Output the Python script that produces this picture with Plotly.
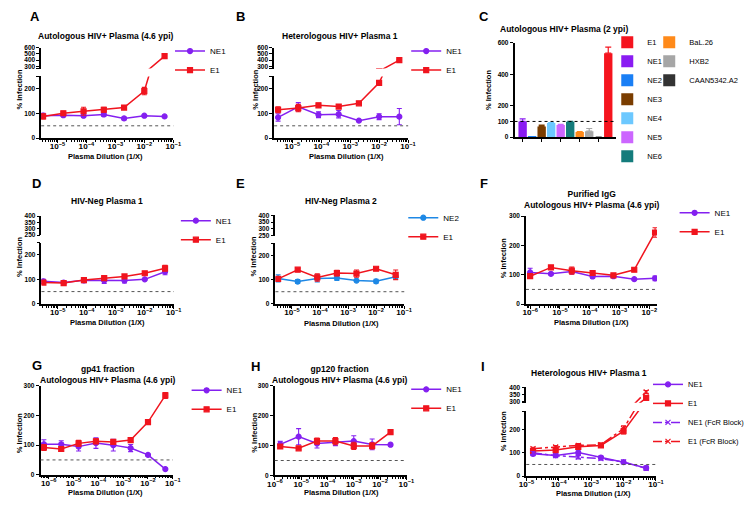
import plotly.graph_objects as go

FONT = "Liberation Sans"
W, H = 750, 508

PURPLE = "#8420F0"
RED = "#F0141E"
BLUE = "#1E88E5"
GREY_DOT = "#555555"

# ---------------- data ----------------
dil_7 = [3.2e-6, 1.6e-5, 8e-5, 4e-4, 2e-3, 1e-2, 5e-2]

# A: Autologous HIV+ Plasma (4.6 ypi)
a_ne1 = [91, 93, 91, 96, 80, 91, 88]
a_ne1_err = [10, 6, 6, 8, 6, 4, 4]
a_e1 = [88, 101, 109, 115, 124, 191, 465]
a_e1_err = [10, 8, 16, 10, 4, 15, 35]

# B: Heterologous HIV+ Plasma 1
b_ne1 = [84, 127, 95, 97, 71, 87, 87]
b_ne1_err = [15, 17, 12, 15, 4, 12, 33]
b_e1 = [115, 122, 133, 128, 141, 224, 400]
b_e1_err = [12, 15, 8, 8, 3, 10, 8]

# C: Autologous HIV+ Plasma (2 ypi)
c_labels = ["NE1", "NE2", "NE3", "NE4", "NE5", "NE6", "BaL.26", "HXB2", "CAAN5342.A2", "E1"]
c_values = [100, 3, 68, 90, 77, 98, 33, 38, 1, 535]
c_err = [16, 0, 9, 3, 4, 2, 2, 17, 0, 38]
c_colors = ["#8A1CF2", "#1A7FF5", "#7A3D00", "#6CC8FF", "#CC66FF", "#147C7C",
            "#FF8A1A", "#A6A6A6", "#333333", "#F5141E"]
c_legend_col1 = ["E1", "NE1", "NE2", "NE3", "NE4", "NE5", "NE6"]
c_legend_col2 = ["BaL.26", "HXB2", "CAAN5342.A2"]
c_yticks = [0, 100, 200, 400, 600]

# D: HIV-Neg Plasma 1
d_ne1 = [92, 87, 96, 95, 95, 100, 131]
d_ne1_err = [8, 4, 10, 12, 10, 3, 12]
d_e1 = [87, 85, 97, 105, 112, 125, 145]
d_e1_err = [5, 4, 5, 8, 4, 6, 12]

# E: HIV-Neg Plasma 2
e_ne2 = [105, 92, 105, 107, 96, 93, 112]
e_ne2_err = [15, 8, 15, 10, 4, 8, 10]
e_e1 = [103, 141, 109, 127, 125, 145, 120]
e_e1_err = [5, 6, 15, 12, 15, 4, 20]

# F: Purified IgG
f_x = [1e-6, 5e-6, 2.5e-5, 1.25e-4, 6.25e-4, 3.125e-3, 1.5625e-2]
f_ne1 = [108, 103, 111, 94, 95, 85, 88]
f_ne1_err = [14, 4, 8, 6, 4, 3, 8]
f_e1 = [95, 125, 114, 106, 98, 117, 244]
f_e1_err = [7, 4, 12, 5, 4, 6, 16]

# G: gp41 fraction
g_x = [6.4e-7, 3.2e-6, 1.6e-5, 8e-5, 4e-4, 2e-3, 1e-2, 5e-2]
g_ne1 = [103, 103, 95, 107, 100, 90, 67, 19]
g_ne1_err = [15, 12, 15, 18, 20, 12, 3, 3]
g_e1 = [92, 87, 106, 113, 111, 117, 178, 268]
g_e1_err = [10, 8, 10, 8, 6, 8, 5, 10]

# H: gp120 fraction
h_x = [1.6e-6, 8e-6, 4e-5, 2e-4, 1e-3, 5e-3, 2.5e-2]
h_ne1 = [104, 130, 107, 112, 115, 104, 103]
h_ne1_err = [10, 27, 15, 12, 18, 18, 5]
h_e1 = [97, 91, 115, 115, 99, 99, 145]
h_e1_err = [5, 3, 10, 12, 12, 10, 6]

# I: Heterologous HIV+ Plasma 1 (+/- FcR block)
i_x = [1.6e-5, 8e-5, 4e-4, 2e-3, 1e-2, 5e-2]
i_ne1 = [96, 89, 101, 80, 60, 35]
i_ne1_err = [8, 5, 12, 6, 4, 8]
i_e1 = [108, 112, 126, 132, 193, 325]
i_e1_err = [6, 8, 10, 6, 12, 12]
i_ne1_fcr = [100, 88, 82, 75, 61, 33]
i_ne1_fcr_err = [6, 4, 8, 6, 4, 6]
i_e1_fcr = [118, 125, 132, 135, 204, 367]
i_e1_fcr_err = [6, 6, 8, 4, 12, 10]

# ---------------- figure ----------------
fig = go.Figure()
layout = dict(width=W, height=H, margin=dict(l=0, r=0, t=0, b=0),
              plot_bgcolor="white", paper_bgcolor="white", showlegend=True,
              barmode="overlay")
annotations = []
shapes = []

axis_count = {"x": 0, "y": 0}


def new_axis(letter):
    axis_count[letter] += 1
    i = axis_count[letter]
    suf = "" if i == 1 else str(i)
    return f"{letter}axis{suf}", f"{letter}{suf}"


def axis_style(**kw):
    d = dict(showline=True, linecolor="black", linewidth=1.5, ticks="outside", ticklen=3,
             tickwidth=1.2, tickcolor="black", showgrid=False, zeroline=False,
             tickfont=dict(family=FONT, size=6.5, color="black", weight="bold"))
    d.update(kw)
    return d


def legend_style(px, py, size=8):
    return dict(x=px / W, y=1 - py / H, xanchor="left", yanchor="top",
                font=dict(family=FONT, size=size, color="black"),
                bgcolor="rgba(0,0,0,0)", borderwidth=0, itemwidth=30,
                tracegroupgap=0, traceorder="normal")


def add_series(xref, yref, x, y, err, name, color, symbol, dash, legend, showlegend):
    fig.add_trace(go.Scatter(
        x=x, y=y, mode="lines+markers", name=name, xaxis=xref, yaxis=yref,
        line=dict(color=color, width=1.5, dash=dash),
        marker=dict(color=color, symbol=symbol, size=5, line=dict(color=color, width=1.2)),
        error_y=dict(type="data", array=err, visible=True, color=color, thickness=1.1, width=2.5),
        legend=legend, showlegend=showlegend))


def line_panel(xpx, xrng, lower, upper, series, legend_name, legend_pos, legend_size=8):
    xkey, xref = new_axis("x")
    ylkey, ylref = new_axis("y")
    layout[xkey] = axis_style(
        type="log", domain=[xpx[0] / W, xpx[1] / W], range=list(xrng),
        dtick=1, exponentformat="power", ticklabelstandoff=-3, anchor=ylref,
        minor=dict(ticks="outside", ticklen=2, tickwidth=0.8, tickcolor="black",
                   dtick="D1", showgrid=False))
    bot, top, rng, tv, tt = lower
    layout[ylkey] = axis_style(domain=[1 - bot / H, 1 - top / H], range=list(rng),
                               tickvals=tv, ticktext=tt, anchor=xref)
    yrefs = [ylref]
    if upper is not None:
        yhkey, yhref = new_axis("y")
        bot, top, rng, tv, tt = upper
        layout[yhkey] = axis_style(domain=[1 - bot / H, 1 - top / H], range=list(rng),
                                   tickvals=tv, ticktext=tt, anchor=xref)
        yrefs.append(yhref)
    for k, yr in enumerate(yrefs):
        for s in series:
            add_series(xref, yr, *s, legend=legend_name, showlegend=(k == 0))
    layout[legend_name] = legend_style(*legend_pos, size=legend_size)
    shapes.append(dict(type="line", xref=f"{xref} domain", x0=0, x1=1, yref=ylref,
                       y0=50, y1=50, line=dict(color=GREY_DOT, width=1, dash="dot")))


def text(px, py, s, size, bold=True, angle=0):
    annotations.append(dict(x=px / W, y=1 - py / H, xref="paper", yref="paper", text=s,
                            showarrow=False, textangle=angle,
                            font=dict(family=FONT, size=size, color="black",
                                      weight="bold" if bold else "normal"),
                            xanchor="center", yanchor="middle"))


LOW_250 = [0, 100, 200, 250], ["0", "100", "200", ""]
UP_600 = [265, 300, 400, 500, 600], ["", "300", "400", "500", "600"]
UP_400 = [250, 300, 350, 400], ["250", "300", "350", "400"]
TICK_300 = [0, 100, 200, 300], ["0", "100", "200", "300"]

# A
line_panel((34, 169.5), (-5.56, -0.995),
           (136, 73.5, (0, 250), *LOW_250),
           (65.5, 44.3, (265, 600), *UP_600),
           [(dil_7, a_ne1, a_ne1_err, "NE1", PURPLE, "circle", "solid"),
            (dil_7, a_e1, a_e1_err, "E1", RED, "square", "solid")],
           "legend", (166, 33))
# B
line_panel((272.7, 410), (-5.63, -0.995),
           (136, 73.5, (0, 250), *LOW_250),
           (65.5, 44.3, (265, 600), *UP_600),
           [(dil_7, b_ne1, b_ne1_err, "NE1", PURPLE, "circle", "solid"),
            (dil_7, b_e1, b_e1_err, "E1", RED, "square", "solid")],
           "legend2", (408, 33))

# C (bar chart)
cxkey, cxref = new_axis("x")
cykey, cyref = new_axis("y")
layout[cxkey] = axis_style(type="category", domain=[519 / W, 623 / W], range=[-0.85, 9.82],
                           showticklabels=False, anchor=cyref, categoryorder="array",
                           categoryarray=c_labels)
layout[cykey] = axis_style(domain=[1 - 135 / H, 1 - 39.5 / H], range=[0, 600],
                           tickvals=c_yticks, anchor=cxref)
for lab, v, e, col in zip(c_labels, c_values, c_err, c_colors):
    if lab in c_legend_col1:
        leg, rank = "legend3", c_legend_col1.index(lab) + 1
    else:
        leg, rank = "legend4", c_legend_col2.index(lab) + 1
    fig.add_trace(go.Bar(
        x=[lab], y=[v], name=lab, xaxis=cxref, yaxis=cyref, width=0.88,
        marker=dict(color=col, line=dict(width=0)),
        error_y=dict(type="data", array=[e], arrayminus=[0], symmetric=False,
                     color=col, thickness=1.2, width=3),
        legend=leg, legendrank=rank))
layout["legend3"] = legend_style(614, 24, size=7.5)
layout["legend4"] = legend_style(657, 24, size=7.5)
shapes.append(dict(type="line", xref=f"{cxref} domain", x0=0, x1=1, yref=cyref,
                   y0=100, y1=100, line=dict(color="black", width=1, dash="dot")))

# D
line_panel((34.3, 170), (-5.56, -0.995),
           (304, 242, (0, 250), *LOW_250),
           (234.3, 215, (250, 400), *UP_400),
           [(dil_7, d_ne1, d_ne1_err, "NE1", PURPLE, "circle", "solid"),
            (dil_7, d_e1, d_e1_err, "E1", RED, "square", "solid")],
           "legend5", (172, 205))
# E
line_panel((274, 406), (-5.59, -0.995),
           (304, 242.7, (0, 250), *LOW_250),
           (235, 214.3, (250, 400), *UP_400),
           [(dil_7, e_ne2, e_ne2_err, "NE2", BLUE, "circle", "solid"),
            (dil_7, e_e1, e_e1_err, "E1", RED, "square", "solid")],
           "legend6", (405, 202))
# F
line_panel((530.7, 665), (-6.14, -1.74),
           (304.3, 215, (0, 300), *TICK_300), None,
           [(f_x, f_ne1, f_ne1_err, "NE1", PURPLE, "circle", "solid"),
            (f_x, f_e1, f_e1_err, "E1", RED, "square", "solid")],
           "legend7", (683, 197))
# G
line_panel((33.3, 169), (-6.33, -0.995),
           (477.3, 387.3, (0, 300), *TICK_300), None,
           [(g_x, g_ne1, g_ne1_err, "NE1", PURPLE, "circle", "solid"),
            (g_x, g_e1, g_e1_err, "E1", RED, "square", "solid")],
           "legend8", (183, 377))
# H
line_panel((273.3, 408.3), (-6.005, -0.995),
           (478, 387.3, (0, 300), *TICK_300), None,
           [(h_x, h_ne1, h_ne1_err, "NE1", PURPLE, "circle", "solid"),
            (h_x, h_e1, h_e1_err, "E1", RED, "square", "solid")],
           "legend9", (408, 376))
# I
line_panel((531, 664), (-5.005, -0.995),
           (478.7, 412.7, (0, 280), [0, 100, 200, 280], ["0", "100", "200", ""]),
           (404.3, 388.7, (290, 400), [290, 300, 350, 400], ["", "300", "350", "400"]),
           [(i_x, i_ne1, i_ne1_err, "NE1", PURPLE, "circle", "solid"),
            (i_x, i_e1, i_e1_err, "E1", RED, "square", "solid"),
            (i_x, i_ne1_fcr, i_ne1_fcr_err, "NE1 (FcR Block)", PURPLE, "x-thin", "dashdot"),
            (i_x, i_e1_fcr, i_e1_fcr_err, "E1 (FcR Block)", RED, "x-thin", "dashdot")],
           "legend10", (656, 371), legend_size=7.5)

# ---------------- texts ----------------
TS = 8.5
text(100, 32, "Autologous HIV+ Plasma (4.6 ypi)", TS)
text(340, 32, "Heterologous HIV+ Plasma 1", TS)
text(570, 25, "Autologous HIV+ Plasma (2 ypi)", TS)
text(101.7, 200, "HIV-Neg Plasma 1", TS)
text(341.7, 200, "HIV-Neg Plasma 2", TS)
text(598, 198.3, "Purified IgG<br>Autologous HIV+ Plasma (4.6 ypi)", TS)
text(101.7, 375.8, "gp41 fraction<br>Autologous HIV+ Plasma (4.6 ypi)", TS)
text(340, 375.5, "gp120 fraction<br>Autologous HIV+ Plasma (4.6 ypi)", TS)
text(595, 373.7, "Heterologous HIV+ Plasma 1", TS)

for letter, px, py in [("A", 28, 13), ("B", 238, 12.5), ("C", 488, 12.5),
                       ("D", 29, 181.7), ("E", 238.3, 181.7), ("F", 488, 181.7),
                       ("G", 30, 366.3), ("H", 253.3, 367.3), ("I", 486.7, 367.3)]:
    text(px, py, letter, 13)

XT = "Plasma Dilution (1/X)"
for px, py in [(100, 155), (346.7, 155), (101.7, 323.3), (341.7, 324), (598, 323.3),
               (100, 495.5), (341.7, 495.5), (600, 496)]:
    text(px, py, XT, 7.5)

YT = "% Infection"
for px, py in [(12, 87), (254, 87), (493, 87), (11.7, 256), (252, 256), (508, 258),
               (11.7, 434.7), (251.7, 435), (507.3, 433)]:
    text(px, py, YT, 7.5, angle=-90)

layout["annotations"] = annotations
layout["shapes"] = shapes
fig.update_layout(**layout)
fig.write_html("out.html", config={"displayModeBar": False},
               post_script="document.body.style.margin='0';")
